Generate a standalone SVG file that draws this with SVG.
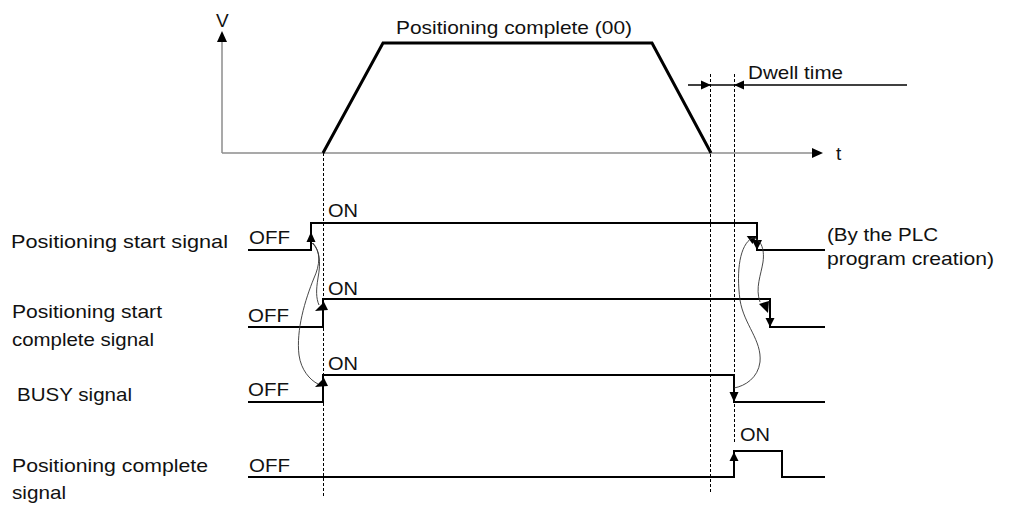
<svg xmlns="http://www.w3.org/2000/svg" width="1009" height="506" viewBox="0 0 1009 506">
<style>
text{font-family:"Liberation Sans",Arial,sans-serif;font-size:19px;fill:#111}
.sig{fill:none;stroke:#000;stroke-width:2}
.axis{fill:none;stroke:#8c8c8c;stroke-width:1.5}
.prof{fill:none;stroke:#000;stroke-width:3;stroke-linejoin:miter}
.dash{fill:none;stroke:#000;stroke-width:1;stroke-dasharray:3,2}
.curve{fill:none;stroke:#333;stroke-width:0.9}
.thin{fill:none;stroke:#000;stroke-width:1.3}
.ah{fill:#000}
</style>
<rect width="1009" height="506" fill="#fff"/>

<g id="axes">
  <line class="axis" x1="222" y1="153" x2="222" y2="42"/>
  <polygon class="ah" points="222,31 217,42 227,42"/>
  <line class="axis" x1="222" y1="153" x2="812" y2="153"/>
  <polygon class="ah" points="823,153 812,148 812,158"/>
  <text x="216" y="27">V</text>
  <text x="836" y="160">t</text>
</g>

<g id="guides">
  <line class="dash" x1="323.5" y1="153" x2="323.5" y2="498"/>
  <line class="dash" x1="710.5" y1="74" x2="710.5" y2="492"/>
  <line class="dash" x1="734.5" y1="74" x2="734.5" y2="443"/>
</g>

<g id="velocity-profile">
  <polyline class="prof" points="323,153 383,43 652,43 711,153"/>
  <text x="396" y="34" textLength="236" lengthAdjust="spacingAndGlyphs">Positioning complete (00)</text>
</g>

<g id="dwell-time">
  <line class="thin" x1="688" y1="85" x2="907" y2="85"/>
  <polygon class="ah" points="701,80.5 711,85 701,89.5"/>
  <polygon class="ah" points="744,80.5 734,85 744,89.5"/>
  <text x="748" y="79" textLength="95" lengthAdjust="spacingAndGlyphs">Dwell time</text>
</g>

<g id="sig-start">
  <text x="11" y="248" textLength="217" lengthAdjust="spacingAndGlyphs">Positioning start signal</text>
  <text x="249" y="243.5" textLength="41" lengthAdjust="spacingAndGlyphs">OFF</text>
  <text x="328" y="217" textLength="30" lengthAdjust="spacingAndGlyphs">ON</text>
  <path class="sig" d="M248,250 H311 V223 H757 V250 H825"/>
  <polygon class="ah" points="311,232 306.5,242 315.5,242"/>
  <polygon class="ah" points="746.7,236 756.7,236 752.5,244"/>
  <polygon class="ah" points="752,240 762,240 757,250"/>
</g>

<g id="note-plc">
  <text x="827" y="241" textLength="111" lengthAdjust="spacingAndGlyphs">(By the PLC</text>
  <text x="827" y="265" textLength="167" lengthAdjust="spacingAndGlyphs">program creation)</text>
</g>

<g id="sig-start-complete">
  <text x="12" y="318" textLength="150" lengthAdjust="spacingAndGlyphs">Positioning start</text>
  <text x="12" y="346" textLength="142" lengthAdjust="spacingAndGlyphs">complete signal</text>
  <text x="248" y="322" textLength="41" lengthAdjust="spacingAndGlyphs">OFF</text>
  <text x="328" y="295" textLength="30" lengthAdjust="spacingAndGlyphs">ON</text>
  <path class="sig" d="M248,327 H323 V299 H770 V327 H825"/>
  <polygon class="ah" points="324,302 315,311 328,310"/>
  <polygon class="ah" points="765.5,318 774.5,318 770,327"/>
</g>

<g id="sig-busy">
  <text x="17" y="401" textLength="115" lengthAdjust="spacingAndGlyphs">BUSY signal</text>
  <text x="248" y="396" textLength="41" lengthAdjust="spacingAndGlyphs">OFF</text>
  <text x="328" y="370" textLength="30" lengthAdjust="spacingAndGlyphs">ON</text>
  <path class="sig" d="M248,402 H323 V375 H734 V402 H825"/>
  <polygon class="ah" points="324,378 315,387 328,386"/>
  <polygon class="ah" points="729.5,392 738.5,392 734,402"/>
</g>

<g id="sig-pos-complete">
  <text x="12" y="472" textLength="196" lengthAdjust="spacingAndGlyphs">Positioning complete</text>
  <text x="12" y="499" textLength="54" lengthAdjust="spacingAndGlyphs">signal</text>
  <text x="249" y="472" textLength="41" lengthAdjust="spacingAndGlyphs">OFF</text>
  <text x="740" y="441" textLength="30" lengthAdjust="spacingAndGlyphs">ON</text>
  <path class="sig" d="M248,477 H734 V451 H782 V477 H825"/>
  <polygon class="ah" points="734,452 729.5,461 738.5,461"/>
</g>

<g id="connectors">
  <path class="curve" d="M312,243 C320,250 321,262 318,278 C316,290 316,298 319,305"/>
  <path class="curve" d="M313,243 C321,252 320,265 314,278 C305,300 296,330 299,355 C301,370 310,380 318,384"/>
  <path class="curve" d="M752,238 C760,238 765,248 763,262 C761,275 755,288 760,302"/>
  <polygon class="ah" points="759,304 769,301 768,313"/>
  <path class="curve" d="M752,238 C740,245 736,270 740,300 C744,325 762,340 760,362 C758,378 745,386 734,388"/>
</g>
</svg>
